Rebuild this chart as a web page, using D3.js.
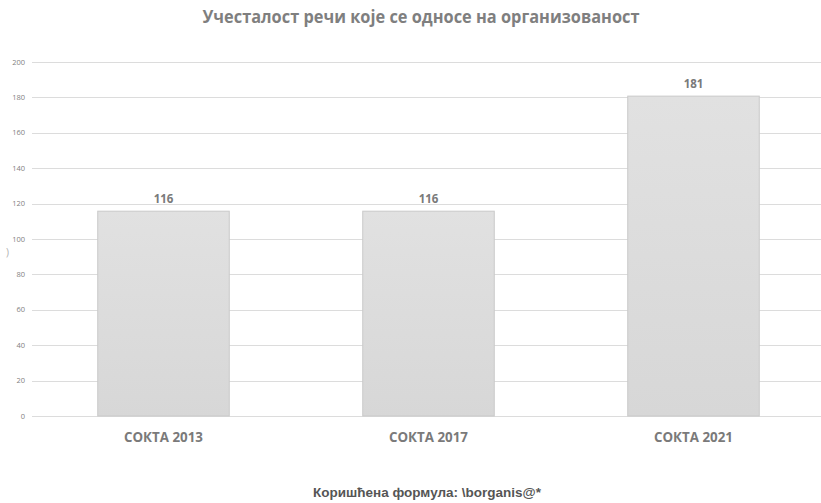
<!DOCTYPE html>
<html>
<head>
<meta charset="utf-8">
<script src="https://cdn.jsdelivr.net/npm/d3@7"></script>
<style>
  html, body { margin: 0; padding: 0; background: #fff; }
  svg { display: block; }
</style>
</head>
<body>
<div id="chart"></div>
<script>
// Word frequency data
const categories = ["СОКТА 2013", "СОКТА 2017", "СОКТА 2021"];
const values = [116, 116, 181];
const yTicks = [0, 20, 40, 60, 80, 100, 120, 140, 160, 180, 200];
const titleText = "Учесталост речи које се односе на организованост";
const footerText = "Коришћена формула: \\borganis@*";

const W = 821, H = 503;
const svg = d3.select("#chart").append("svg").attr("width", W).attr("height", H);

const defs = svg.append("defs");
const grad = defs.append("linearGradient").attr("id", "barGrad")
  .attr("x1", 0).attr("y1", 0).attr("x2", 0).attr("y2", 1);
grad.append("stop").attr("offset", "0%").attr("stop-color", "#e1e1e1");
grad.append("stop").attr("offset", "100%").attr("stop-color", "#d7d7d7");

const x = d3.scaleBand().domain(categories).range([31, 826])
  .paddingInner(0.5).paddingOuter(0.25);
const y = d3.scaleLinear().domain([0, 200]).range([416, 62]);

// Gridlines
svg.append("g").selectAll("line").data(yTicks).join("line")
  .attr("x1", 32).attr("x2", W)
  .attr("y1", d => Math.round(y(d)) + 0.5).attr("y2", d => Math.round(y(d)) + 0.5)
  .attr("stroke", "#dcdcdc").attr("stroke-width", 1);

// Y tick labels
svg.append("g").selectAll("text").data(yTicks).join("text")
  .attr("x", 25).attr("y", d => y(d)).attr("dy", "0.35em")
  .attr("text-anchor", "end")
  .attr("font-family", "'Open Sans', sans-serif").attr("font-size", 7.5)
  .attr("fill", "#7f7f7f")
  .text(d => d);

// Bars
svg.append("g").selectAll("rect").data(values).join("rect")
  .attr("x", (d, i) => x(categories[i]) + 0.5)
  .attr("y", d => y(d) + 0.5)
  .attr("width", x.bandwidth() - 1)
  .attr("height", d => y(0) - y(d) - 0.5)
  .attr("fill", "url(#barGrad)")
  .attr("stroke", "#c9c9c9").attr("stroke-width", 1);

// Value labels
svg.append("g").selectAll("text").data(values).join("text")
  .attr("x", (d, i) => x(categories[i]) + x.bandwidth() / 2)
  .attr("y", d => y(d) - 8)
  .attr("text-anchor", "middle")
  .attr("font-family", "'Open Sans', sans-serif").attr("font-weight", "bold")
  .attr("font-size", 11.5).attr("fill", "#7a7a7a")
  .text(d => d);

// Category labels
svg.append("g").selectAll("text").data(categories).join("text")
  .attr("x", d => x(d) + x.bandwidth() / 2)
  .attr("y", 442)
  .attr("text-anchor", "middle")
  .attr("font-family", "'Open Sans', sans-serif").attr("font-weight", "bold")
  .attr("font-size", 13.5).attr("fill", "#7a7a7a")
  .attr("textLength", 79).attr("lengthAdjust", "spacingAndGlyphs")
  .text(d => d);

// Title
svg.append("text")
  .attr("x", 421).attr("y", 23)
  .attr("text-anchor", "middle")
  .attr("font-family", "'Open Sans', sans-serif").attr("font-weight", "bold")
  .attr("font-size", 18).attr("fill", "#7f7f7f")
  .attr("textLength", 437).attr("lengthAdjust", "spacingAndGlyphs")
  .text(titleText);

// Footer
svg.append("text")
  .attr("x", 427).attr("y", 497)
  .attr("text-anchor", "middle")
  .attr("font-family", "'Liberation Sans', Arial, sans-serif").attr("font-weight", "bold")
  .attr("font-size", 12).attr("fill", "#555555")
  .attr("textLength", 228).attr("lengthAdjust", "spacingAndGlyphs")
  .text(footerText);

// Small mark at the left edge
svg.append("text")
  .attr("x", 6).attr("y", 256)
  .attr("font-family", "'Open Sans', sans-serif").attr("font-size", 10)
  .attr("fill", "#b0b0b0")
  .text(")");
</script>
</body>
</html>
